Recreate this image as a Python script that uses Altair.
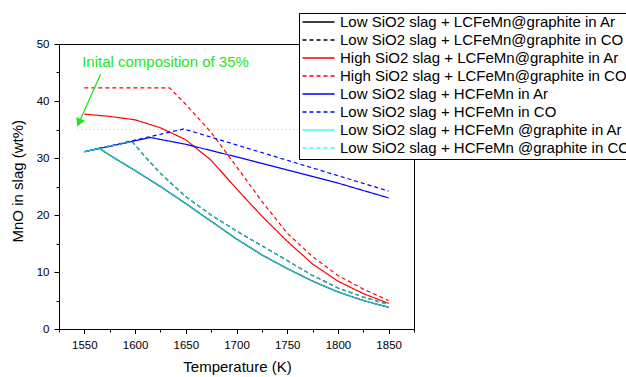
import altair as alt
import pandas as pd

# ---- series definitions ----
series_names = [
    "Low SiO2 slag + LCFeMn@graphite in Ar",
    "Low SiO2 slag + LCFeMn@graphite in CO",
    "High SiO2 slag + LCFeMn@graphite in Ar",
    "High SiO2 slag + LCFeMn@graphite in CO",
    "Low SiO2 slag + HCFeMn in Ar",
    "Low SiO2 slag + HCFeMn in CO",
    "Low SiO2 slag + HCFeMn @graphite in Ar",
    "Low SiO2 slag + HCFeMn @graphite in CO",
]
series_colors = ["#000000", "#000000", "#FF0000", "#FF0000",
                 "#0000FF", "#0000FF", "#33FFFF", "#33FFFF"]
series_dashes = [[1, 0], [4, 3], [1, 0], [4, 3], [1, 0], [4, 3], [1, 0], [4, 3]]
cyan_line_color = "#1EC3C8"

# graphite crucible, low SiO2 slag (LC and HC curves coincide)
graphite_ar_T = [1550, 1565, 1575, 1600, 1625, 1650, 1675, 1700, 1725, 1750, 1775, 1800, 1825, 1850]
graphite_ar_v = [31.1, 31.7, 30.5, 27.8, 25.0, 22.0, 18.9, 15.8, 13.0, 10.6, 8.4, 6.5, 5.0, 3.8]
graphite_co_T = [1550, 1597, 1610, 1625, 1650, 1675, 1700, 1725, 1750, 1775, 1800, 1825, 1850]
graphite_co_v = [31.1, 32.9, 30.2, 27.3, 23.2, 20.0, 17.2, 14.6, 12.0, 9.4, 7.2, 5.6, 4.3]

# high SiO2 slag + LCFeMn@graphite
high_ar_T = [1550, 1575, 1600, 1625, 1650, 1675, 1700, 1725, 1750, 1775, 1800, 1825, 1850]
high_ar_v = [37.7, 37.3, 36.7, 35.3, 33.2, 29.6, 24.6, 19.8, 15.4, 11.4, 8.4, 6.2, 4.5]
high_co_T = [1550, 1634, 1650, 1675, 1700, 1725, 1750, 1775, 1800, 1825, 1850]
high_co_v = [42.3, 42.3, 39.4, 34.5, 28.5, 22.4, 16.8, 12.7, 9.4, 7.0, 5.0]

# low SiO2 slag + HCFeMn
hc_ar_T = [1550, 1615, 1650, 1700, 1750, 1800, 1850]
hc_ar_v = [31.1, 33.6, 32.4, 30.2, 27.9, 25.6, 23.0]
hc_co_T = [1550, 1648, 1700, 1750, 1800, 1850]
hc_co_v = [31.1, 35.1, 32.3, 29.6, 26.9, 24.2]

series_T = [graphite_ar_T, graphite_co_T, high_ar_T, high_co_T,
            hc_ar_T, hc_co_T, graphite_ar_T, graphite_co_T]
series_v = [graphite_ar_v, graphite_co_v, high_ar_v, high_co_v,
            hc_ar_v, hc_co_v, graphite_ar_v, graphite_co_v]

# annotation
ref_T = [1543, 1850]
ref_v = [35, 35]
arrow_T = [1566.0, 1544.7]
arrow_v = [44.7, 36.2]
head_T = [1544.7]
head_v = [36.2]
note_T = [1547.8]
note_v = [45.9]
note_text = ["Inital composition of 35%"]

rows = []
for name, ts, vs in zip(series_names, series_T, series_v):
    for t, v in zip(ts, vs):
        rows.append({"series": name, "T": t, "v": v})
df = pd.DataFrame(rows)
black_df = df[df["series"].isin(series_names[0:2])]
rb_df = df[df["series"].isin(series_names[2:6])]
cyan_df = df[df["series"].isin(series_names[6:8])]

ref_df = pd.DataFrame({"T": ref_T, "v": ref_v})
arrow_df = pd.DataFrame({"T": arrow_T, "v": arrow_v})
head_df = pd.DataFrame({"T": head_T, "v": head_v})
note_df = pd.DataFrame({"T": note_T, "v": note_v, "text": note_text})

x_ticks = list(range(1525, 1876, 25))
y_ticks = list(range(0, 51, 5))

x_axis = alt.Axis(
    values=x_ticks,
    labelExpr="datum.value % 50 == 0 ? format(datum.value, 'd') : ''",
    tickSize={"condition": {"test": "datum.value % 50 != 0", "value": 3}, "value": 4.5},
    labelPadding=5.5,
    labelOverlap=False,
    labelFlush=False,
    titleX=178,
    titleY=42.7,
    titleBaseline="alphabetic",
    titleAlign="center",
)
y_axis = alt.Axis(
    values=y_ticks,
    labelExpr="datum.value % 10 == 0 ? format(datum.value, 'd') : ''",
    tickSize={"condition": {"test": "datum.value % 10 != 0", "value": 3}, "value": 5},
    labelPadding=5,
    labelOverlap=False,
    labelFlush=False,
    titleX=-37,
    titleY=136.7,
    titleBaseline="alphabetic",
    titleAlign="center",
)
x_scale = alt.Scale(domain=[1525, 1875], nice=False, zero=False)
y_scale = alt.Scale(domain=[0, 50], nice=False)

x_enc = alt.X("T:Q", title="Temperature (K)", scale=x_scale, axis=x_axis)
y_enc = alt.Y("v:Q", title="MnO in slag (wt%)", scale=y_scale, axis=y_axis)

legend = alt.Legend(title=None)
color_enc = alt.Color("series:N", scale=alt.Scale(domain=series_names, range=series_colors),
                      legend=legend, sort=series_names)
dash_enc = alt.StrokeDash("series:N", scale=alt.Scale(domain=series_names, range=series_dashes),
                          legend=legend, sort=series_names)

green = "#22E622"

ref_line = alt.Chart(ref_df).mark_line(color="#9BEB9B", strokeWidth=1, strokeDash=[1, 3]).encode(
    x=x_enc, y=y_enc)

black_lines = alt.Chart(black_df).mark_line(strokeWidth=1.2).encode(
    x=x_enc, y=y_enc, color=color_enc, strokeDash=dash_enc, detail="series:N")
rb_lines = alt.Chart(rb_df).mark_line(strokeWidth=1.2).encode(
    x=x_enc, y=y_enc, color=color_enc, strokeDash=dash_enc, detail="series:N")
cyan_lines = alt.Chart(cyan_df).mark_line(strokeWidth=1.3, color=cyan_line_color).encode(
    x=x_enc, y=y_enc, strokeDash=dash_enc, detail="series:N")

arrow = alt.Chart(arrow_df).mark_line(color=green, strokeWidth=1.3).encode(x=x_enc, y=y_enc)
head = alt.Chart(head_df).mark_point(shape="triangle-up", filled=True, color=green, size=90,
                                     angle=204, opacity=1).encode(x=x_enc, y=y_enc)
note = alt.Chart(note_df).mark_text(align="left", baseline="alphabetic", font="Liberation Sans",
                                    fontSize=15, color=green).encode(x=x_enc, y=y_enc, text="text:N")

chart = alt.layer(ref_line, black_lines, rb_lines, cyan_lines, arrow, head, note).properties(
    width=355,
    height=285,
    autosize=alt.AutoSizeParams(type="none"),
    padding={"left": 59, "top": 44, "right": 212, "bottom": 48},
).configure_view(
    stroke="black", strokeWidth=1
).configure_axis(
    grid=False,
    domainColor="black",
    domainWidth=1,
    tickColor="black",
    tickWidth=1,
    labelColor="black",
    titleColor="black",
    labelFont="Liberation Sans",
    titleFont="Liberation Sans",
    labelFontSize=11.5,
    titleFontSize=15,
    titleFontWeight="normal",
).configure_legend(
    orient="none",
    legendX=240,
    legendY=-31,
    fillColor="white",
    strokeColor="black",
    padding=2.5,
    symbolType="stroke",
    symbolSize=1024,
    symbolStrokeWidth=1.5,
    labelFont="Liberation Sans",
    labelFontSize=15,
    labelColor="black",
    labelOffset=4.5,
    labelLimit=500,
    rowPadding=2,
    clipHeight=13,
)

chart.save("out.html", embed_options={"renderer": "svg", "actions": False})
